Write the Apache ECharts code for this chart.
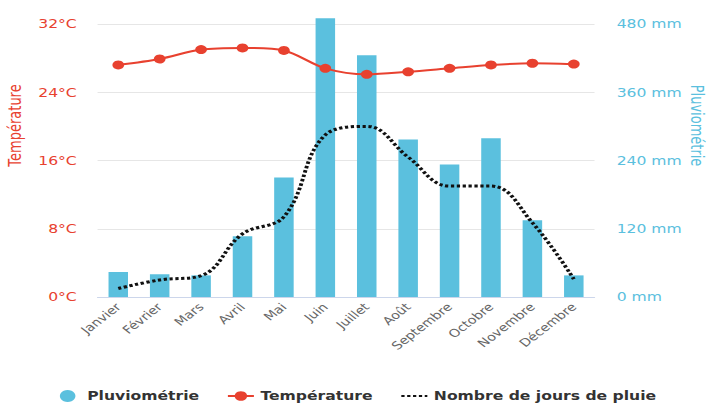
<!DOCTYPE html>
<html>
<head>
<meta charset="utf-8">
<script src="https://cdn.jsdelivr.net/npm/echarts@6/dist/echarts.min.js"></script>
<style>
  html, body { margin: 0; padding: 0; background: #fff; overflow: hidden; }
  /* le graphique d'origine est étiré horizontalement */
  #chart { width: 545px; height: 405px; transform: scaleX(1.3009); transform-origin: 0 0; }
</style>
</head>
<body>
<div id="chart"></div>
<script>
// mois
const months = ['Janvier', 'Février', 'Mars', 'Avril', 'Mai', 'Juin', 'Juillet', 'Août', 'Septembre', 'Octobre', 'Novembre', 'Décembre'];
// pluviométrie en mm
const rainMm = [44, 40, 38, 107, 210, 490, 425, 277, 233, 279, 135, 38];
// température moyenne en °C
const temperature = [27.2, 27.9, 29.0, 29.2, 28.9, 26.8, 26.1, 26.4, 26.8, 27.2, 27.4, 27.3];
// nombre de jours de pluie
const rainDays = [1, 2, 2.5, 7.4, 9.4, 19, 20, 16.4, 13, 13, 8.7, 2.1];

const red = '#e8412f';
const blue = '#5bc0de';
const font = 'DejaVu Sans';

const chart = echarts.init(document.getElementById('chart'), null, { renderer: 'svg' });

const option = {
    textStyle: { fontFamily: font },
    animation: false,
    grid: {
        top: 24,
        left: 75,
        right: 88,
        bottom: 108,
        outerBoundsMode: 'none'
    },
    legend: {
        top: 385,
        left: 41,
        itemGap: 21,
        itemWidth: 20,
        itemHeight: 12,
        textStyle: { fontFamily: font, fontWeight: 'bold', fontSize: 12, color: '#333' },
        data: [
            { name: 'Pluviométrie', icon: 'circle' },
            { name: 'Température' },
            { name: 'Nombre de jours de pluie', itemStyle: { opacity: 0 } }
        ]
    },
    xAxis: {
        type: 'category',
        data: months,
        axisLine: { lineStyle: { color: '#ccd6eb' } },
        axisTick: { length: 10, lineStyle: { color: '#ccd6eb' } },
        axisLabel: { rotate: 45, color: '#666', fontSize: 11, margin: 8 }
    },
    yAxis: [
        {
            type: 'value',
            min: 0,
            max: 32,
            interval: 8,
            name: 'Température',
            nameLocation: 'middle',
            nameGap: 56,
            nameTextStyle: { color: red, fontSize: 13, padding: [0, 0, 0, 70] },
            axisLabel: { color: red, fontSize: 12, margin: 16, formatter: '{value}°C' },
            splitLine: { lineStyle: { color: '#e6e6e6' } }
        },
        {
            type: 'value',
            min: 0,
            max: 480,
            interval: 120,
            name: 'Pluviométrie',
            nameLocation: 'middle',
            nameGap: 72,
            nameMoveOverlap: false,
            nameRotate: -90,
            nameTextStyle: { color: blue, fontSize: 13, padding: [0, 70, 0, 0] },
            axisLabel: { color: blue, fontSize: 12, margin: 17, formatter: '{value} mm' },
            splitLine: { show: false }
        }
    ],
    series: [
        {
            name: 'Pluviométrie',
            type: 'bar',
            yAxisIndex: 1,
            data: rainMm,
            barWidth: 15,
            clip: false,
            itemStyle: { color: blue }
        },
        {
            name: 'Température',
            type: 'line',
            yAxisIndex: 0,
            data: temperature,
            smooth: 0.3,
            symbol: 'circle',
            symbolSize: 9,
            lineStyle: { color: red, width: 2 },
            itemStyle: { color: red }
        },
        {
            name: 'Nombre de jours de pluie',
            type: 'line',
            yAxisIndex: 0,
            data: rainDays,
            smooth: 0.4,
            symbol: 'none',
            lineStyle: { color: '#111', width: 3, type: [2.5, 2] },
            itemStyle: { color: '#111' }
        }
    ]
};

chart.setOption(option);
</script>
</body>
</html>
